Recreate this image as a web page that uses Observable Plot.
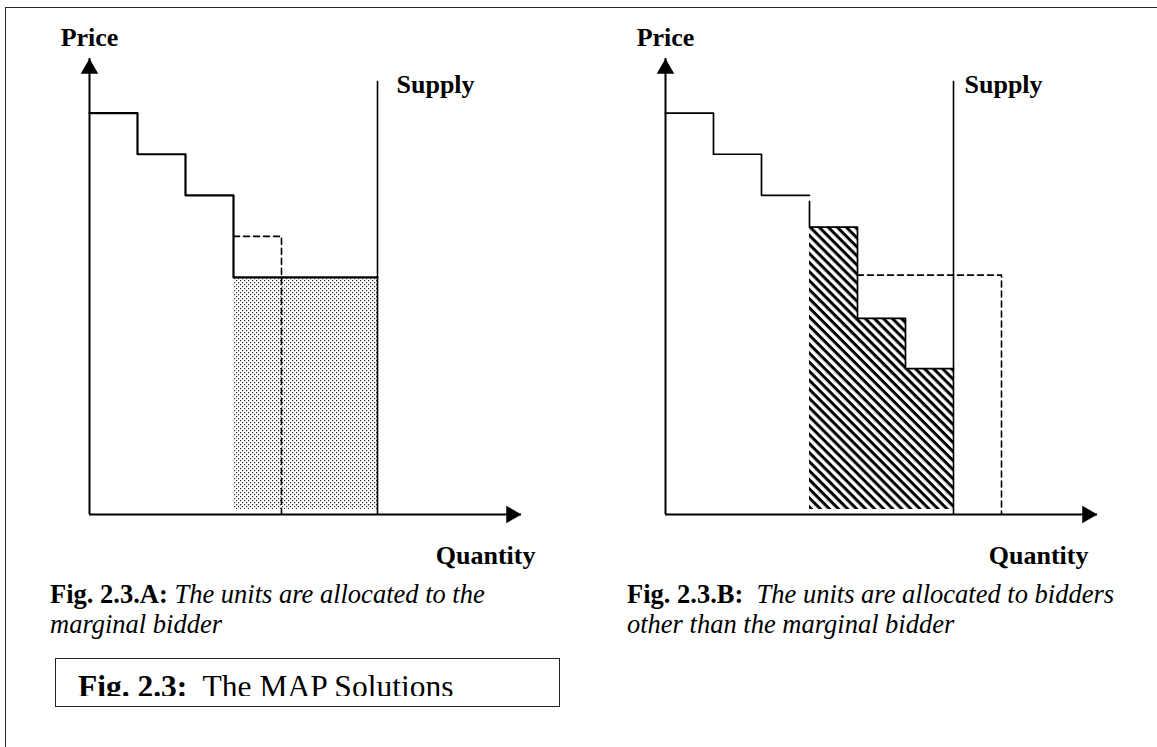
<!DOCTYPE html>
<html>
<head>
<meta charset="utf-8">
<script src="https://cdn.jsdelivr.net/npm/d3@7"></script>
<script src="https://cdn.jsdelivr.net/npm/@observablehq/plot@0.6"></script>
<style>
  html, body { margin: 0; padding: 0; background: #fff; }
  #page { position: relative; width: 1157px; height: 747px; overflow: hidden;
          font-family: "Liberation Serif", "Times New Roman", serif; color: #000; }
  .panel { position: absolute; top: 0; }
  #frame { position: absolute; left: 5px; top: 7px; width: 1400px; height: 1000px;
           border-left: 1.5px solid #2a2a2a; border-top: 1.5px solid #2a2a2a;
           pointer-events: none; z-index: 5; }
  .cap { position: absolute; top: 579px; font-size: 26.5px; line-height: 30px; white-space: nowrap; }
  .cap b { font-weight: bold; }
  .cap i { font-style: italic; }
  #boxFrame { position: absolute; left: 55px; top: 658px; width: 505px; height: 49px;
              box-sizing: border-box; border: 1.5px solid #222; }
  #boxClip { position: absolute; left: 78px; top: 660px; width: 475px; height: 36px; overflow: hidden; }
  #boxText { margin-top: 10.6px; font-size: 31.5px; line-height: 31.5px; white-space: pre; }
</style>
</head>
<body>
<svg width="0" height="0" style="position:absolute">
  <defs>
    <pattern id="dots" width="4" height="4" patternUnits="userSpaceOnUse">
      <rect x="0" y="0" width="1.2" height="1.2" fill="#2a2a2a"></rect>
      <rect x="2" y="2" width="1.2" height="1.2" fill="#2a2a2a"></rect>
    </pattern>
    <pattern id="hatch" width="6.4" height="6.4" patternUnits="userSpaceOnUse" patternTransform="rotate(45)">
      <rect x="0" y="0" width="6.4" height="3" fill="#000"></rect>
    </pattern>
  </defs>
</svg>
<div id="page">
  <div id="panelA" class="panel" style="left:0px"></div>
  <div id="panelB" class="panel" style="left:576px"></div>
  <div class="cap" id="capA" style="left:50px"></div>
  <div class="cap" id="capB" style="left:627px"></div>
  <div id="boxFrame"></div>
  <div id="boxClip"><div id="boxText"></div></div>
  <div id="frame"></div>
</div>
<script>
// ---------- data ----------
const qMax = 9;            // quantity axis extent
const pMax = 100;          // price axis extent
const supplyQ = 6;         // fixed supply (vertical line)
const supplyTop = 95;      // top of supply line

// Panel A: units allocated to the marginal bidder
const demandA_q = [0, 1, 2, 3, 6];
const demandA_p = [88, 79, 70, 52, 52];
const dashedA_q = [3, 4, 4];
const dashedA_p = [61, 61, 0];
const allocA_x1 = [3];
const allocA_x2 = [6];
const allocA_p  = [52];

// Panel B: units allocated to bidders other than the marginal bidder
const demandB1_q = [0, 1, 2, 3];
const demandB1_p = [88, 79, 70, 70];
const demandB2_q = [3, 3, 4, 5, 6];
const demandB2_p = [68.7, 63, 43, 32, 32];
const dashedB_q = [4, 7, 7];
const dashedB_p = [52.5, 52.5, 0];
const allocB_x1 = [3, 4, 5];
const allocB_x2 = [4, 5, 6];
const allocB_p  = [63, 43, 32];

// texts
const axisLabels = ["Price", "Supply", "Quantity"];
const captionA = ["Fig. 2.3.A:", "The units are allocated to the", "marginal bidder"];
const captionB = ["Fig. 2.3.B:", "The units are allocated to bidders", "other than the marginal bidder"];
const figTitle = ["Fig. 2.3:", "The MAP Solutions"];

// ---------- helpers ----------
const rows = (qs, ps, z = 0) => qs.map((q, i) => ({q, p: ps[i], z}));
const FONT = "Liberation Serif, Times New Roman, serif";

function panel({width, demand, dashed, alloc, fillId, lineW, supplyDx, quantityDx}) {
  const labelStyle = {fontFamily: FONT, fontSize: 26, fontWeight: "bold", fill: "black", lineAnchor: "bottom"};
  return Plot.plot({
    width, height: 580,
    marginLeft: 89, marginRight: width - 89 - 432, marginTop: 58, marginBottom: 66,
    x: {domain: [0, qMax], axis: null},
    y: {domain: [0, pMax], axis: null},
    style: {background: "transparent", overflow: "visible", fontFamily: FONT},
    marks: [
      Plot.rect(alloc, {x1: "x1", x2: "x2", y1: () => 0, y2: "p", fill: `url(#${fillId})`, insetBottom: 5}),
      Plot.line(demand, {x: "q", y: "p", z: "z", curve: "step-after", stroke: "black", strokeWidth: lineW}),
      Plot.line(dashed, {x: "q", y: "p", curve: "linear", stroke: "black", strokeWidth: 1.6, strokeDasharray: "6,4"}),
      Plot.ruleX([supplyQ], {x: d => d, y1: () => 0, y2: () => supplyTop, stroke: "black", strokeWidth: 1.6}),
      // axes
      Plot.ruleX([0], {x: d => d, y1: () => 0, y2: () => pMax, stroke: "black", strokeWidth: 2}),
      Plot.ruleY([0], {y: d => d, x1: () => 0, x2: () => qMax, stroke: "black", strokeWidth: 2}),
      Plot.dot([{q: 0, p: pMax}], {x: "q", y: "p", symbol: "triangle", r: 6.5, fill: "black", stroke: "none", dy: 10.2}),
      Plot.dot([{q: qMax, p: 0}], {x: "q", y: "p", symbol: "triangle", r: 6.5, fill: "black", stroke: "none", rotate: 90, dx: -10.2}),
      // labels
      Plot.text([{q: 0, p: pMax, t: axisLabels[0]}], {x: "q", y: "p", text: "t", textAnchor: "middle", dy: -13, ...labelStyle}),
      Plot.text([{q: supplyQ, p: supplyTop, t: axisLabels[1]}], {x: "q", y: "p", text: "t", textAnchor: "start", dx: supplyDx, dy: 12, ...labelStyle}),
      Plot.text([{q: qMax, p: 0, t: axisLabels[2]}], {x: "q", y: "p", text: "t", textAnchor: "end", dx: quantityDx, dy: 49, ...labelStyle})
    ]
  });
}

const allocRows = (x1s, x2s, ps) => x1s.map((x1, i) => ({x1, x2: x2s[i], p: ps[i]}));

document.getElementById("panelA").append(panel({
  width: 576,
  demand: rows(demandA_q, demandA_p),
  dashed: rows(dashedA_q, dashedA_p),
  alloc: allocRows(allocA_x1, allocA_x2, allocA_p),
  fillId: "dots", lineW: 2.2, supplyDx: 19, quantityDx: 14
}));

document.getElementById("panelB").append(panel({
  width: 581,
  demand: [...rows(demandB1_q, demandB1_p, 0), ...rows(demandB2_q, demandB2_p, 1)],
  dashed: rows(dashedB_q, dashedB_p),
  alloc: allocRows(allocB_x1, allocB_x2, allocB_p),
  fillId: "hatch", lineW: 1.7, supplyDx: 11, quantityDx: -9
}));

// captions
function caption(el, parts, sep) {
  const b = document.createElement("b"); b.textContent = parts[0];
  const i1 = document.createElement("i"); i1.textContent = parts[1];
  const i2 = document.createElement("i"); i2.textContent = parts[2];
  el.append(b, document.createTextNode(sep), i1, document.createElement("br"), i2);
}
caption(document.getElementById("capA"), captionA, " ");
caption(document.getElementById("capB"), captionB, "\u00a0 ");

const bt = document.getElementById("boxText");
const fb = document.createElement("b"); fb.textContent = figTitle[0];
bt.append(fb, document.createTextNode("  " + figTitle[1]));
</script>
</body>
</html>
